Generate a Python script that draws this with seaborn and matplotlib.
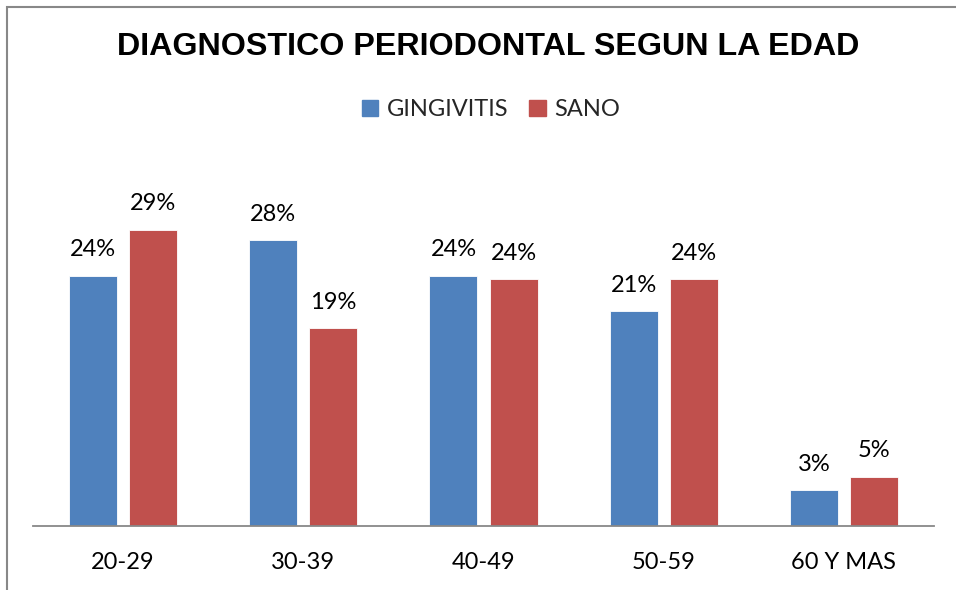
import pandas as pd
import seaborn as sns
import matplotlib.pyplot as plt
from matplotlib.patches import Rectangle, Patch

edades = ['20-29', '30-39', '40-49', '50-59', '60 Y MAS']
gingivitis = [0.2414, 0.2759, 0.2414, 0.2069, 0.0345]
sano = [0.2857, 0.1905, 0.2381, 0.2381, 0.0476]
series = ['GINGIVITIS', 'SANO']
colores = ['#4F81BD', '#C0504D']

df = pd.DataFrame({
    'edad': edades * 2,
    'valor': gingivitis + sano,
    'grupo': [series[0]] * len(edades) + [series[1]] * len(edades),
})

sns.set_style('white')
plt.rcParams['font.family'] = ['Lato', 'DejaVu Sans']

W, H = 956, 590
fig = plt.figure(figsize=(W / 100, H / 100), dpi=100)
ax = fig.add_axes([33 / W, (H - 526) / H, (934 - 33) / W, (526 - 163) / H])

sns.barplot(data=df, x='edad', y='valor', hue='grupo', order=edades,
            hue_order=series, palette=colores,
            width=2 / 3, gap=0.2, saturation=1, edgecolor='white',
            linewidth=0.6, ax=ax, legend=False)

for cont in ax.containers:
    ax.bar_label(cont, labels=[f'{v:.0%}' for v in cont.datavalues],
                 padding=11, fontsize=17, color='black')

ax.set_ylim(0, 0.35)
ax.set_xlim(-0.5, 4.5)
ax.set_xlabel('')
ax.set_ylabel('')
ax.set_yticks([])
ax.tick_params(axis='x', length=0, pad=19, labelsize=17, labelcolor='black')
for s in ['top', 'right', 'left']:
    ax.spines[s].set_visible(False)
ax.spines['bottom'].set_color('#888888')
ax.spines['bottom'].set_linewidth(1.3)

handles = [Patch(color=c) for c in colores]
fig.legend(handles, series, loc='center', bbox_to_anchor=(491 / W, 1 - 110 / H),
           ncol=2, frameon=False, fontsize=17, handlelength=0.7,
           handleheight=0.7, handletextpad=0.35, columnspacing=0.9)

fig.text(488 / W, 1 - 47 / H, 'DIAGNOSTICO PERIODONTAL SEGUN LA EDAD',
         ha='center', va='center', fontsize=23.2, fontweight='bold',
         color='black', family=['Liberation Sans', 'DejaVu Sans'])

# marco del grafico (recortado a la derecha y abajo)
fig.add_artist(Rectangle((7 / W, -0.1), 1.2, 1.1 - 7 / H,
                         transform=fig.transFigure, fill=False,
                         edgecolor='#888888', linewidth=1.5))

fig.savefig('out.png', dpi=100)
